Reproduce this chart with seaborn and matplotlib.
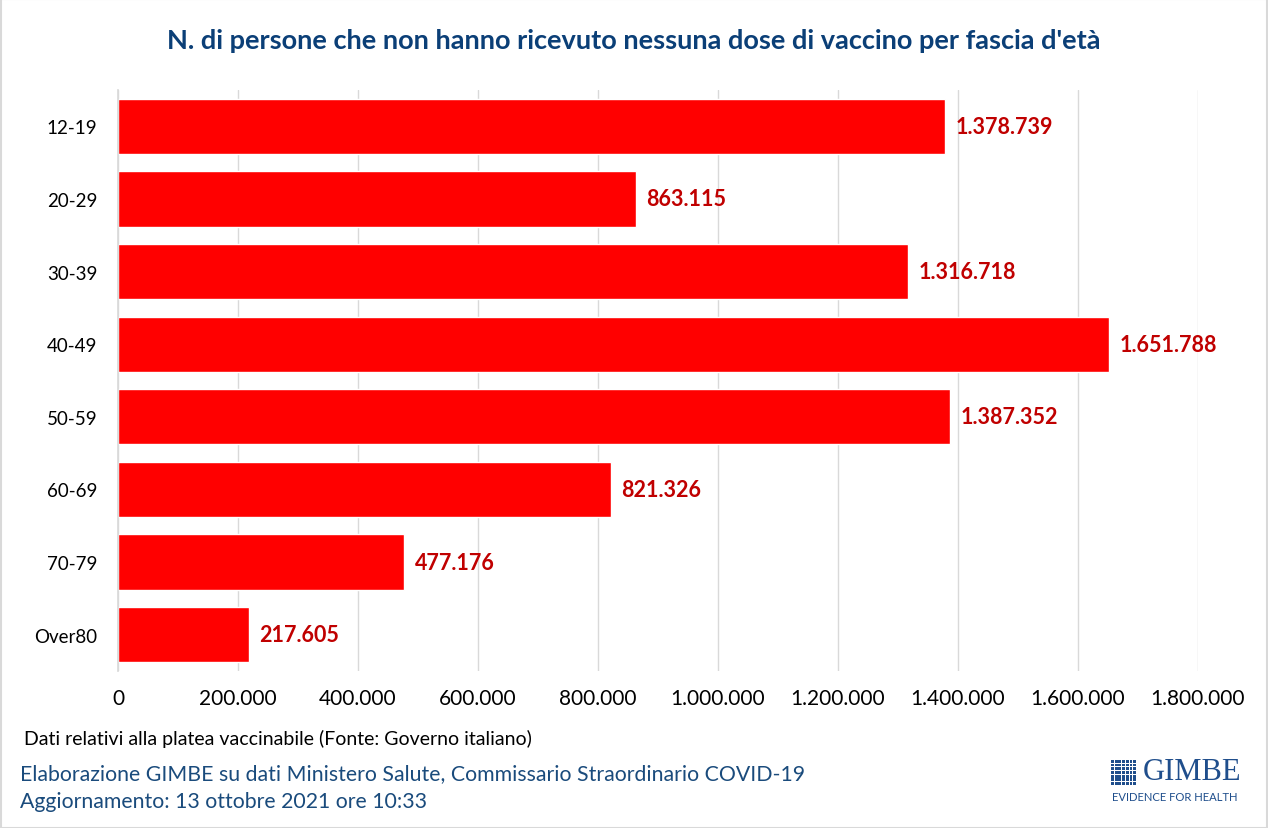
import matplotlib
matplotlib.use("Agg")
import matplotlib.pyplot as plt
import matplotlib.patches as mpatches
import seaborn as sns
import pandas as pd

# ---------------------------------------------------------
# Data
# ---------------------------------------------------------
age_groups = ["12-19", "20-29", "30-39", "40-49", "50-59", "60-69", "70-79", "Over80"]
unvaccinated = [1378739, 863115, 1316718, 1651788, 1387352, 821326, 477176, 217605]
x_ticks = [0, 200000, 400000, 600000, 800000, 1000000, 1200000, 1400000, 1600000, 1800000]

title = "N. di persone che non hanno ricevuto nessuna dose di vaccino per fascia d'età"
note = "Dati relativi alla platea vaccinabile (Fonte: Governo italiano)"
credit = "Elaborazione GIMBE su dati Ministero Salute, Commissario Straordinario COVID-19"
updated = "Aggiornamento: 13 ottobre 2021 ore 10:33"

BLUE = "#1A4B7C"
TITLE_BLUE = "#0B3F77"
DARK_RED = "#C00000"
LOGO_BLUE = "#1F4E8C"


def it_fmt(v):
    return f"{v:,.0f}".replace(",", ".")


df = pd.DataFrame({"age": age_groups, "n": unvaccinated})

sns.set_theme(style="white")
plt.rcParams["font.family"] = ["Lato", "DejaVu Sans"]

fig = plt.figure(figsize=(12.68, 8.29), dpi=100)
ax = fig.add_axes([0.0931, 0.1894, 0.8517, 0.7008])

sns.barplot(data=df, y="age", x="n", color="#FF0000", saturation=1,
            width=0.76, orient="h", ax=ax)

ax.set_xlim(0, 1800000)
ax.set_ylim(7.5, -0.5)
ax.set_xticks(x_ticks)
ax.set_xticklabels([it_fmt(t) for t in x_ticks], fontsize=15, color="#000000")
ax.tick_params(axis="y", labelsize=13.5, colors="#000000", pad=15, length=0)
ax.tick_params(axis="x", pad=12, length=0)
ax.set_xlabel("")
ax.set_ylabel("")
ax.grid(axis="x", color="#D9D9D9", linewidth=1)
ax.set_axisbelow(True)
for side in ["top", "right", "bottom"]:
    ax.spines[side].set_visible(False)
ax.spines["left"].set_color("#D9D9D9")

for i, v in enumerate(unvaccinated):
    ax.text(v + 17000, i, it_fmt(v), va="center", ha="left",
            fontsize=15.5, fontweight="bold", color=DARK_RED)

fig.text(0.5, 0.951, title, ha="center", va="center", fontsize=19.5,
         fontweight="bold", color=TITLE_BLUE)
fig.text(0.019, 0.109, note, ha="left", va="center", fontsize=14, color="#000000")
fig.text(0.016, 0.066, credit, ha="left", va="center", fontsize=15.3, color=BLUE)
fig.text(0.016, 0.032, updated, ha="left", va="center", fontsize=15.3, color=BLUE)

# logo
fig.text(0.9014, 0.0676, "GIMBE", ha="left", va="center", fontsize=22,
         color=LOGO_BLUE, family=["Liberation Serif", "DejaVu Serif"])
fig.text(0.877, 0.0386, "EVIDENCE FOR HEALTH", ha="left", va="center",
         fontsize=8.1, color=LOGO_BLUE)
px, py = 3.7 / 1268, 3.7 / 829
for r in range(7):
    for c in range(7):
        fig.patches.append(mpatches.Rectangle(
            (0.8762 + c * px, 0.0519 + r * py), px * 0.78, py * 0.78,
            transform=fig.transFigure, color=LOGO_BLUE, lw=0))

# outer frame
fig.patches.append(mpatches.Rectangle((0.0005, 0.0005), 0.999, 0.999,
                                      transform=fig.transFigure, fill=False,
                                      edgecolor="#D9D9D9", lw=1.5))

fig.savefig("out.png", dpi=100)
plt.close(fig)
